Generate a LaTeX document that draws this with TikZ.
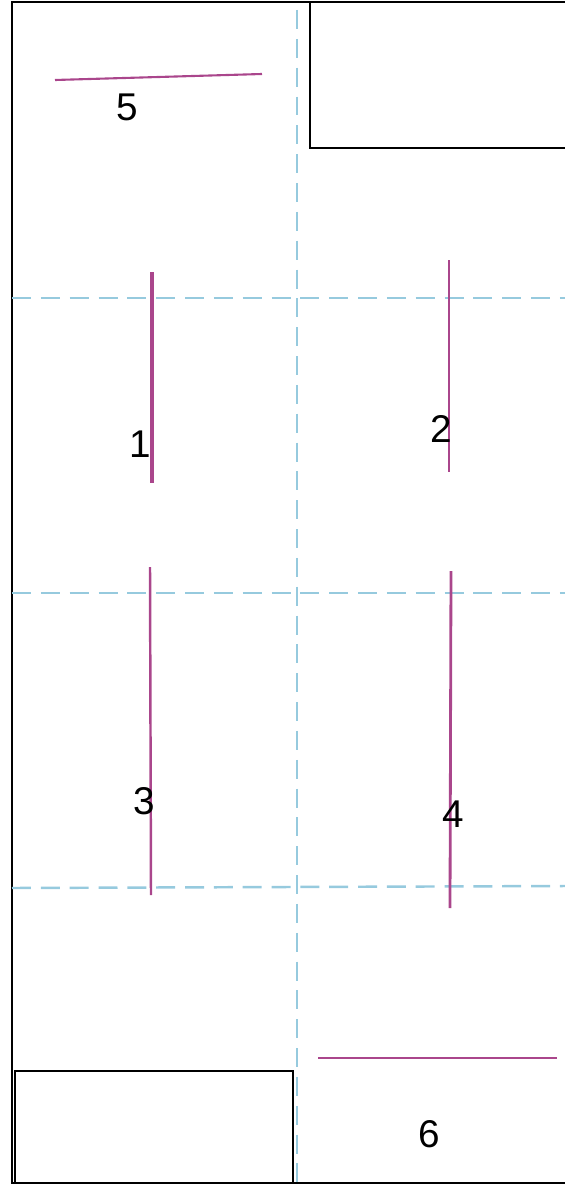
\documentclass[tikz,border=0pt]{standalone}
\usepackage{fontspec}
\setmainfont{Liberation Sans}
\usepackage{tikz}

\begin{document}
\begin{tikzpicture}[x=0.01cm,y=-0.01cm,
  wall/.style={line width=0.75pt,black},
  grid/.style={line width=0.7pt,color={rgb,255:red,150;green,202;blue,222},dash pattern=on 5.4pt off 2.8pt},
  mark/.style={line width=#1,color={rgb,255:red,170;green,70;blue,140}},
  num/.style={inner sep=0pt,font=\fontsize{11}{13}\selectfont}]
\useasboundingbox (0,0) rectangle (565,1185);
% room outline and boxes
\draw[wall] (565,2) -- (12,2) -- (12,1183) -- (565,1183);
\draw[wall] (310,2) -- (310,148) -- (565,148);
\draw[wall] (15,1183) -- (15,1071) -- (293,1071) -- (293,1183);
% dashed grid
\draw[grid] (297,10) -- (297,1183);
\foreach \y/\yy in {298/298,593/593,888/886} {
   \draw[grid] (12,\y) -- (565,\yy);
}
% marks
\draw[mark=0.6pt] (55,80) -- (262,74);
\draw[mark=1pt] (152,272) -- (152,483);
\draw[mark=0.55pt] (449,260) -- (449,472);
\draw[mark=0.7pt] (150,567) -- (151,895);
\draw[mark=0.8pt] (451,571) -- (450,908);
\draw[mark=0.5pt] (318,1058) -- (557,1058);
% numbers
\foreach \n/\x/\y in %
{5/127/107,1/140/444,2/441/429,3/144/801,4/453/814,6/429/1134} {
   \node[num] (lbl\n) at (\x,\y) {\n};
}
\end{tikzpicture}
\end{document}
